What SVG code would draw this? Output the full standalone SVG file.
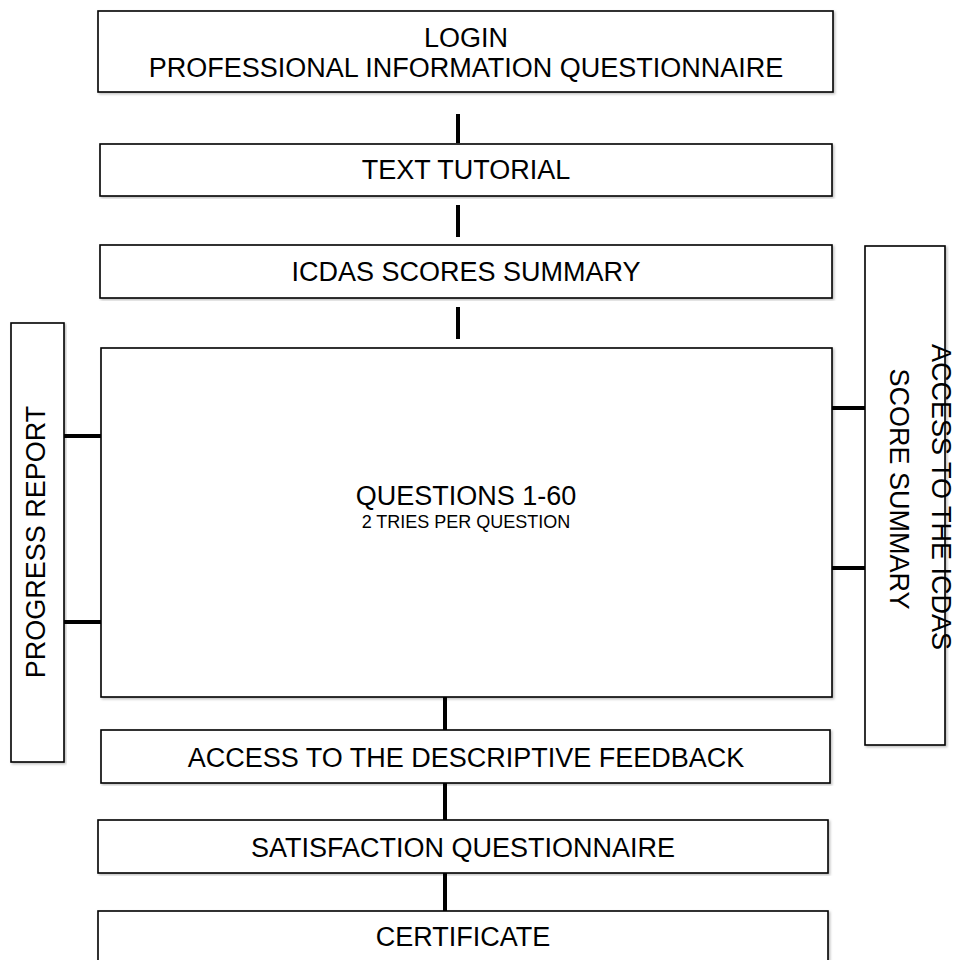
<svg xmlns="http://www.w3.org/2000/svg" width="960" height="960" viewBox="0 0 960 960">
<defs>
<filter id="sh" x="-5%" y="-5%" width="110%" height="110%">
<feDropShadow dx="1.5" dy="1.5" stdDeviation="1" flood-color="#000" flood-opacity="0.25"/>
</filter>
<style>
.box{fill:#fff;stroke:#000;stroke-width:1.6;filter:url(#sh)}
.t{font-family:"Liberation Sans",Arial,sans-serif;font-size:27px;fill:#000;text-anchor:middle}
.s{font-size:18px}
.c{stroke:#000;stroke-width:4;fill:none}
</style>
</defs>
<rect width="960" height="960" fill="#fff"/>
<g id="connectors">
<line class="c" x1="458" y1="114" x2="458" y2="143"/>
<line class="c" x1="458" y1="205" x2="458" y2="237"/>
<line class="c" x1="458" y1="307" x2="458" y2="339"/>
<line class="c" x1="64" y1="436" x2="101" y2="436"/>
<line class="c" x1="64" y1="622" x2="101" y2="622"/>
<line class="c" x1="832" y1="408" x2="865" y2="408"/>
<line class="c" x1="832" y1="568" x2="865" y2="568"/>
<line class="c" x1="445" y1="697" x2="445" y2="730"/>
<line class="c" x1="445" y1="783" x2="445" y2="820"/>
<line class="c" x1="445" y1="873" x2="445" y2="911"/>
</g>
<g id="login">
<rect class="box" x="98" y="11" width="735" height="81"/>
<text class="t" x="466" y="47">LOGIN</text>
<text class="t" x="466" y="77">PROFESSIONAL INFORMATION QUESTIONNAIRE</text>
</g>
<g id="tutorial">
<rect class="box" x="100" y="144" width="732" height="52"/>
<text class="t" x="466" y="179">TEXT TUTORIAL</text>
</g>
<g id="icdas">
<rect class="box" x="100" y="245" width="732" height="53"/>
<text class="t" x="466" y="281">ICDAS SCORES SUMMARY</text>
</g>
<g id="progress">
<rect class="box" x="11" y="323" width="53" height="439"/>
<text class="t" x="0" y="0" transform="translate(45,542) rotate(-90)">PROGRESS REPORT</text>
</g>
<g id="questions">
<rect class="box" x="101" y="348" width="731" height="349"/>
<text class="t" x="466" y="505">QUESTIONS 1-60</text>
<text class="t s" x="466" y="528">2 TRIES PER QUESTION</text>
</g>
<g id="access-icdas">
<rect class="box" x="865" y="246" width="80" height="499"/>
<text class="t" x="0" y="0" transform="translate(932,497) rotate(90)">ACCESS TO THE ICDAS</text>
<text class="t" x="0" y="0" transform="translate(890,489) rotate(90)">SCORE SUMMARY</text>
</g>
<g id="feedback">
<rect class="box" x="101" y="730" width="729" height="53"/>
<text class="t" x="466" y="767">ACCESS TO THE DESCRIPTIVE FEEDBACK</text>
</g>
<g id="satisfaction">
<rect class="box" x="98" y="820" width="730" height="53"/>
<text class="t" x="463" y="857">SATISFACTION QUESTIONNAIRE</text>
</g>
<g id="certificate">
<rect class="box" x="98" y="911" width="730" height="60"/>
<text class="t" x="463" y="946">CERTIFICATE</text>
</g>
</svg>
